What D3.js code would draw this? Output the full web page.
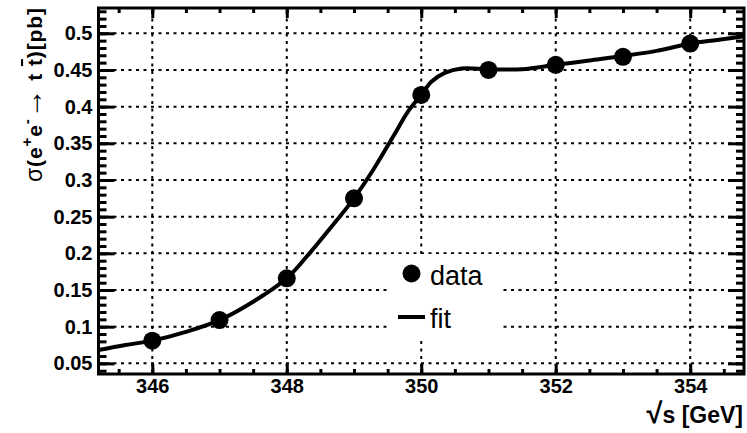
<!DOCTYPE html>
<html>
<head>
<meta charset="utf-8">
<script src="https://cdn.jsdelivr.net/npm/d3@7"></script>
<style>
  html, body { margin: 0; padding: 0; background: #fff; }
  svg { display: block; font-family: "Liberation Sans", Arial, Helvetica, sans-serif; }
</style>
</head>
<body>
<svg id="chart" width="747" height="433"></svg>
<script>
// ---- data ----
const energies = [346, 347, 348, 349, 350, 351, 352, 353, 354];
const sigma    = [0.081, 0.109, 0.166, 0.275, 0.416, 0.450, 0.457, 0.468, 0.486];

const fitX = [345.2, 345.6, 346.0, 346.5, 347.0, 347.5, 348.0, 348.3, 348.6, 349.0, 349.3, 349.6, 349.8, 350.0, 350.15, 350.35, 350.6, 351.0, 351.5, 352.0, 352.5, 353.0, 353.5, 354.0, 354.4, 354.8];
const fitY = [0.068, 0.075, 0.081, 0.093, 0.109, 0.134, 0.166, 0.196, 0.229, 0.275, 0.316, 0.362, 0.393, 0.416, 0.434, 0.446, 0.452, 0.451, 0.451, 0.457, 0.463, 0.469, 0.476, 0.486, 0.491, 0.496];

const xMajorTicks = [346, 348, 350, 352, 354];
const xMajorLabels = ["346", "348", "350", "352", "354"];
const yMajorTicks = [0.05, 0.1, 0.15, 0.2, 0.25, 0.3, 0.35, 0.4, 0.45, 0.5];
const yMajorLabels = ["0.05", "0.1", "0.15", "0.2", "0.25", "0.3", "0.35", "0.4", "0.45", "0.5"];
const xMinorTicks = d3.range(0, 20).map(i => 345.5 + i * 0.5);
const yMinorTicks = d3.range(0, 50).map(i => +(0.04 + i * 0.01).toFixed(2));

const legendLabels = ["data", "fit"];
const xDomain = [345.2, 354.8];
const yDomain = [0.0355, 0.5345];

// ---- layout ----
const svg = d3.select("#chart");
const L = 98.5, R = 744, T = 8, B = 374;
const x = d3.scaleLinear().domain(xDomain).range([L, R]);
const y = d3.scaleLinear().domain(yDomain).range([B, T]);

svg.append("rect").attr("width", 747).attr("height", 433).attr("fill", "#fff");

// grid
const grid = svg.append("g").attr("stroke", "#000").attr("stroke-width", 2).attr("stroke-dasharray", "3,4.5");
grid.selectAll("line.gx").data(xMajorTicks).join("line")
  .attr("x1", d => x(d)).attr("x2", d => x(d)).attr("y1", B).attr("y2", T);
grid.selectAll("line.gy").data(yMajorTicks).join("line")
  .attr("y1", d => y(d)).attr("y2", d => y(d)).attr("x1", L).attr("x2", R);

// legend box (white fill hides grid)
const lg = { x0: 390, y0: 254, x1: 500, y1: 338 };
svg.append("rect").attr("x", lg.x0).attr("y", lg.y0).attr("width", lg.x1 - lg.x0).attr("height", lg.y1 - lg.y0).attr("fill", "#fff");

// fit line
const line = d3.line().x((d, i) => x(fitX[i])).y(d => y(d)).curve(d3.curveCatmullRom.alpha(0.5));
svg.append("path").datum(fitY).attr("d", line)
  .attr("fill", "none").attr("stroke", "#000").attr("stroke-width", 4).attr("stroke-linejoin", "round");

// data markers
svg.selectAll("circle.pt").data(energies).join("circle")
  .attr("class", "pt").attr("cx", d => x(d)).attr("cy", (d, i) => y(sigma[i])).attr("r", 9).attr("fill", "#000");

// axes
function styleAxis(g) {
  g.select(".domain").remove();
  g.selectAll(".tick line").attr("stroke", "#000").attr("stroke-width", 3);
  g.selectAll("text").attr("fill", "#000").attr("font-weight", "bold").attr("font-size", 20);
}
// bottom
svg.append("g").attr("transform", `translate(0,${B})`)
  .call(d3.axisBottom(x).tickValues(xMinorTicks).tickSize(-5).tickFormat(""))
  .call(styleAxis);
svg.append("g").attr("transform", `translate(0,${B})`)
  .call(d3.axisBottom(x).tickValues(xMajorTicks).tickSize(-10).tickPadding(5).tickFormat((d, i) => xMajorLabels[i]))
  .call(styleAxis);
// top
svg.append("g").attr("transform", `translate(0,${T})`)
  .call(d3.axisTop(x).tickValues(xMinorTicks).tickSize(-5).tickFormat(""))
  .call(styleAxis);
svg.append("g").attr("transform", `translate(0,${T})`)
  .call(d3.axisTop(x).tickValues(xMajorTicks).tickSize(-10).tickFormat(""))
  .call(styleAxis);
// left
svg.append("g").attr("transform", `translate(${L},0)`)
  .call(d3.axisLeft(y).tickValues(yMinorTicks).tickSize(-8).tickFormat(""))
  .call(styleAxis);
svg.append("g").attr("transform", `translate(${L},0)`)
  .call(d3.axisLeft(y).tickValues(yMajorTicks).tickSize(-16).tickPadding(6).tickFormat((d, i) => yMajorLabels[i]))
  .call(styleAxis);
// right
svg.append("g").attr("transform", `translate(${R},0)`)
  .call(d3.axisRight(y).tickValues(yMinorTicks).tickSize(-8).tickFormat(""))
  .call(styleAxis);
svg.append("g").attr("transform", `translate(${R},0)`)
  .call(d3.axisRight(y).tickValues(yMajorTicks).tickSize(-16).tickFormat(""))
  .call(styleAxis);

// frame
svg.append("rect").attr("x", L).attr("y", T).attr("width", R - L).attr("height", B - T)
  .attr("fill", "none").attr("stroke", "#000").attr("stroke-width", 3);

// axis titles
const xt = svg.append("text").attr("x", 743).attr("y", 423).attr("text-anchor", "end")
  .attr("font-size", 23).attr("font-weight", "bold").attr("fill", "#000");
xt.append("tspan").attr("font-size", 29).text("√");
xt.append("tspan").text("s [GeV]");

const yt = svg.append("text").attr("transform", `translate(42,${T}) rotate(-90)`).attr("text-anchor", "end")
  .attr("font-size", 21).attr("font-weight", "bold").attr("fill", "#000")
  .attr("textLength", 174).attr("lengthAdjust", "spacing");
yt.append("tspan").attr("font-weight", "normal").attr("font-size", 23).text("σ");
yt.append("tspan").text("(e");
yt.append("tspan").attr("font-size", 15).attr("dy", -10).text("+");
yt.append("tspan").attr("dy", 10).text("e");
yt.append("tspan").attr("font-size", 15).attr("dy", -10).text("-");
yt.append("tspan").attr("dy", 10).attr("font-weight", "normal").attr("font-size", 30).text("→");
yt.append("tspan").text(" t ");
yt.append("tspan").style("text-decoration", "overline").text("t");
yt.append("tspan").text(")[pb]");

// legend
svg.append("circle").attr("cx", 411.5).attr("cy", 273.5).attr("r", 9).attr("fill", "#000");
svg.append("text").attr("x", 430).attr("y", 285).attr("font-size", 27).attr("fill", "#000").text(legendLabels[0]);
svg.append("line").attr("x1", 398).attr("x2", 425).attr("y1", 317).attr("y2", 317).attr("stroke", "#000").attr("stroke-width", 4);
svg.append("text").attr("x", 430).attr("y", 328).attr("font-size", 27).attr("fill", "#000").text(legendLabels[1]);
</script>
</body>
</html>
